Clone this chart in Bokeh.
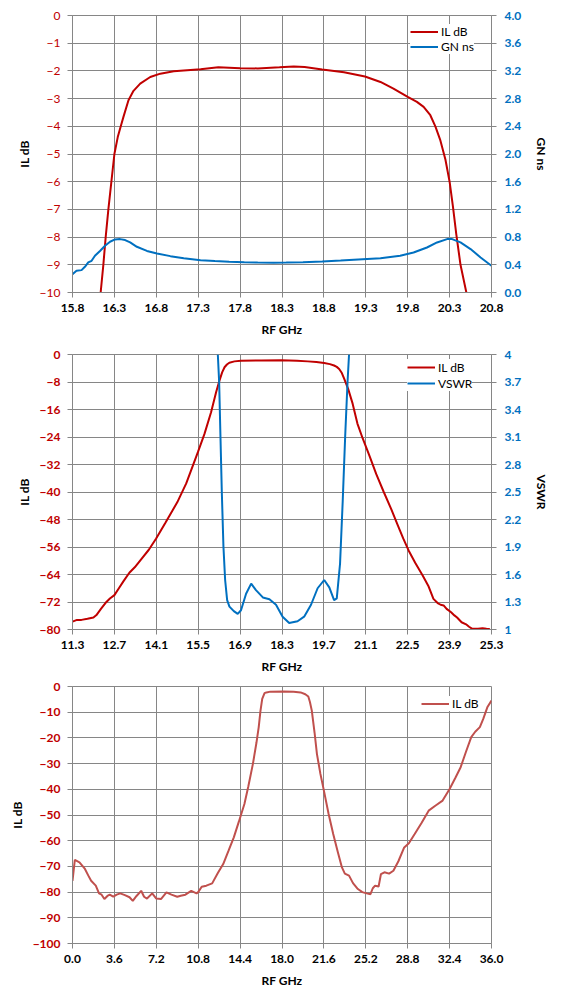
from bokeh.plotting import figure
from bokeh.models import (Range1d, LinearAxis, FixedTicker, PrintfTickFormatter,
                          CustomJSTickFormatter, Legend, LegendItem)
from bokeh.layouts import column
from bokeh.embed import file_html
from bokeh.resources import INLINE

# ---------------- data ----------------
# Chart 1: IL dB and group delay (GN ns) vs RF GHz
c1_il_f = [16.136, 16.168, 16.196, 16.228, 16.264, 16.30, 16.34, 16.376, 16.408, 16.468,
           16.528, 16.608, 16.728, 16.848, 17.008, 17.328, 17.54, 17.80, 18.01, 18.27, 18.44,
           18.57, 18.78, 19.04, 19.29, 19.475, 19.63, 19.80, 19.91, 19.99, 20.07, 20.13,
           20.19, 20.25, 20.30, 20.34, 20.38, 20.43, 20.50]
c1_il_db = [-10.0, -9.0, -8.0, -7.0, -6.0, -5.0, -4.39, -4.0, -3.66, -3.06,
            -2.72, -2.46, -2.22, -2.10, -2.01, -1.94, -1.87, -1.9, -1.91, -1.87, -1.84,
            -1.86, -1.95, -2.05, -2.2, -2.40, -2.64, -2.94, -3.12, -3.30, -3.60, -4.0,
            -4.51, -5.2, -6.0, -6.9, -7.9, -9.0, -10.0]
c1_gn_f = [15.800, 15.848, 15.908, 15.948, 15.988, 16.028, 16.068, 16.128, 16.188, 16.248,
           16.308, 16.368, 16.428, 16.488, 16.568, 16.688, 16.808, 16.968, 17.128, 17.328,
           17.50, 17.67, 17.85, 18.01, 18.20, 18.35, 18.55, 18.78, 19.00, 19.21, 19.475,
           19.71, 19.87, 20.03, 20.15, 20.27, 20.33, 20.43, 20.55, 20.67, 20.80]
c1_gn_ns = [0.265, 0.313, 0.323, 0.371, 0.434, 0.458, 0.530, 0.600, 0.675, 0.733,
            0.766, 0.771, 0.757, 0.723, 0.660, 0.600, 0.564, 0.525, 0.496, 0.467,
            0.455, 0.445, 0.437, 0.432, 0.430, 0.432, 0.437, 0.447, 0.462, 0.478, 0.496,
            0.530, 0.578, 0.650, 0.723, 0.771, 0.771, 0.723, 0.627, 0.506, 0.386]
c1_x_ticks = [15.8, 16.3, 16.8, 17.3, 17.8, 18.3, 18.8, 19.3, 19.8, 20.3, 20.8]
c1_il_ticks = [0, -1, -2, -3, -4, -5, -6, -7, -8, -9, -10]
c1_gn_ticks = [0.0, 0.4, 0.8, 1.2, 1.6, 2.0, 2.4, 2.8, 3.2, 3.6, 4.0]

# Chart 2: IL dB and VSWR vs RF GHz
c2_il_f = [11.3, 11.45, 11.6, 11.8, 12.0, 12.1, 12.25, 12.4, 12.55, 12.7, 12.85, 13.0, 13.2,
           13.38, 13.6, 13.85, 14.09, 14.4, 14.8, 15.1, 15.49, 15.71, 15.93, 16.10, 16.21,
           16.30, 16.38, 16.46, 16.54, 16.71, 16.93, 17.6, 18.27, 18.8, 19.16, 19.45, 19.71,
           19.9, 20.04, 20.13, 20.21, 20.30, 20.38, 20.51, 20.66, 20.82, 21.0, 21.22, 21.45,
           21.7, 21.95, 22.17, 22.35, 22.53, 22.75, 23.0, 23.2, 23.36, 23.5, 23.6, 23.7, 23.8,
           23.95, 24.06, 24.15, 24.3, 24.45, 24.55, 24.66, 24.85, 25.0, 25.13, 25.25]
c2_il_db = [-77.7, -77.2, -77.2, -76.9, -76.5, -75.8, -74.0, -72.3, -71.0, -70.0, -68.0, -66.0,
            -63.5, -61.9, -59.5, -56.8, -53.6, -49.0, -43.0, -37.5, -28.4, -23.1, -16.8, -10.9,
            -7.6, -5.2, -3.7, -2.9, -2.4, -2.0, -1.84, -1.72, -1.65, -1.8, -2.0, -2.2, -2.5,
            -2.8, -3.2, -3.6, -4.2, -5.4, -7.1, -10.0, -14.3, -20.1, -24.5, -29.4, -34.8,
            -40.0, -45.0, -49.7, -53.5, -57.0, -60.6, -64.3, -67.5, -71.1, -72.3, -72.8,
            -73.0, -74.0, -75.0, -75.9, -76.5, -77.9, -78.5, -79.2, -79.8, -79.8, -79.6,
            -79.8, -79.9]
c2_vswr_f = [16.156, 16.20, 16.244, 16.289, 16.344, 16.40, 16.467, 16.544, 16.69, 16.82, 16.93,
             17.10, 17.27, 17.43, 17.66, 17.88, 18.10, 18.32, 18.54, 18.82, 19.04, 19.27,
             19.49, 19.71, 19.88, 20.04, 20.13, 20.24, 20.33, 20.41, 20.49, 20.54]
c2_vswr = [4.0, 3.70, 3.10, 2.50, 1.90, 1.54, 1.32, 1.25, 1.20, 1.17, 1.21,
           1.39, 1.50, 1.43, 1.35, 1.33, 1.27, 1.14, 1.07, 1.09, 1.14, 1.27,
           1.45, 1.54, 1.46, 1.32, 1.34, 1.72, 2.41, 3.10, 3.70, 4.0]
c2_x_ticks = [11.3, 12.7, 14.1, 15.5, 16.9, 18.3, 19.7, 21.1, 22.5, 23.9, 25.3]
c2_il_ticks = [0, -8, -16, -24, -32, -40, -48, -56, -64, -72, -80]
c2_vswr_ticks = [1, 1.3, 1.6, 1.9, 2.2, 2.5, 2.8, 3.1, 3.4, 3.7, 4]

# Chart 3: wideband IL dB vs RF GHz
c3_il_f = [0.0, 0.2, 0.6, 1.07, 1.35, 1.6, 2.0, 2.28, 2.5, 2.74, 3.0, 3.2, 3.5, 3.8, 4.1, 4.5,
           4.9, 5.18, 5.5, 5.9, 6.15, 6.4, 6.85, 7.2, 7.6, 8.07, 8.5, 9.0, 9.3, 9.7, 10.2,
           10.66, 10.8, 11.1, 11.5, 12.0, 12.5, 12.95, 13.4, 13.86, 14.3, 14.77, 15.1, 15.5,
           15.8, 16.0, 16.15, 16.3, 16.5, 16.66, 17.0, 18.12, 19.0, 19.6, 20.0, 20.26, 20.4,
           20.56, 20.8, 21.0, 21.3, 21.6, 22.0, 22.4, 22.8, 23.15, 23.4, 23.76, 24.1, 24.52,
           24.9, 25.28, 25.6, 25.8, 26.0, 26.3, 26.5, 26.8, 27.2, 27.57, 28.0, 28.5, 28.9,
           29.4, 30.0, 30.6, 31.2, 31.8, 32.4, 32.9, 33.35, 33.8, 34.26, 34.6, 35.0, 35.3,
           35.64, 36.0]
c3_il_db = [-75.6, -67.5, -68.4, -71.0, -73.5, -75.6, -77.5, -80.5, -81.0, -82.7, -81.5, -81.0,
            -81.8, -81.0, -80.5, -81.2, -82.0, -83.4, -81.5, -79.5, -81.8, -82.5, -80.5, -82.5,
            -82.7, -80.1, -81.0, -81.8, -81.4, -81.0, -79.5, -80.5, -80.0, -77.9, -77.5,
            -76.6, -72.5, -69.1, -64.0, -58.7, -52.5, -45.7, -39.0, -30.1, -22.0, -15.8,
            -9.5, -4.8, -2.6, -2.3, -2.0, -1.95, -2.05, -2.3, -3.0, -3.9, -6.0, -9.4, -18.0,
            -26.2, -34.0, -40.5, -49.5, -57.4, -64.5, -70.4, -72.8, -73.6, -76.5, -78.8,
            -80.0, -80.5, -80.8, -78.5, -77.5, -77.8, -73.0, -72.3, -72.8, -71.7, -68.0,
            -62.6, -61.0, -57.4, -53.0, -48.3, -46.3, -44.4, -39.9, -35.5, -31.4, -25.5,
            -19.7, -17.6, -15.8, -12.5, -8.1, -5.5]
c3_x_ticks = [0.0, 3.6, 7.2, 10.8, 14.4, 18.0, 21.6, 25.2, 28.8, 32.4, 36.0]
c3_il_ticks = [0, -10, -20, -30, -40, -50, -60, -70, -80, -90, -100]

# ---------------- styling ----------------
FONT = "Lato"
RED = "#C00000"
RED3 = "#C0504D"
BLUE = "#0070C0"
GRID = "#868686"
W = 553


def style_axis(ax, color, bold=True, lab_standoff=7, ax_standoff=6):
    ax.axis_line_color = GRID
    ax.major_tick_line_color = GRID
    ax.major_tick_out = 5
    ax.major_tick_in = 0
    ax.minor_tick_line_color = None
    ax.major_label_text_font = FONT
    ax.major_label_text_font_size = "12px"
    ax.major_label_text_font_style = "bold" if bold else "normal"
    ax.major_label_text_color = color
    ax.major_label_standoff = lab_standoff
    ax.axis_label_text_font = FONT
    ax.axis_label_text_font_size = "12px"
    ax.axis_label_text_font_style = "bold"
    ax.axis_label_text_color = "black"
    ax.axis_label_standoff = ax_standoff


def make_fig(xr, yr, xticks, yticks, height, bt, bb, left_bold):
    p = figure(width=W, height=height, x_range=Range1d(*xr), y_range=Range1d(*yr),
               output_backend="svg", toolbar_location=None,
               min_border_left=72, min_border_right=62,
               min_border_top=bt, min_border_bottom=bb)
    p.xaxis.ticker = FixedTicker(ticks=xticks)
    p.xaxis.formatter = PrintfTickFormatter(format="%.1f")
    p.yaxis.ticker = FixedTicker(ticks=yticks)
    p.xaxis.axis_label = "RF GHz"
    p.yaxis.axis_label = "IL dB"
    style_axis(p.xaxis[0], "black", True, 6, 7)
    style_axis(p.yaxis[0], RED, left_bold, 7, 5)
    p.xgrid.ticker = FixedTicker(ticks=xticks)
    p.ygrid.ticker = FixedTicker(ticks=yticks)
    for g in (p.xgrid[0], p.ygrid[0]):
        g.grid_line_color = GRID
        g.grid_line_width = 1
    p.outline_line_color = GRID
    p.background_fill_color = "white"
    p.border_fill_color = "white"
    return p


def add_legend(p, items, loc, glyph_h):
    leg = Legend(items=items, location=loc, orientation="vertical",
                 background_fill_color="white", background_fill_alpha=1.0,
                 border_line_color=None, padding=4, margin=0, spacing=0,
                 glyph_width=28, glyph_height=glyph_h, label_height=glyph_h,
                 label_standoff=3, label_text_font=FONT, label_text_font_size="12px",
                 label_text_color="black")
    p.add_layout(leg)


# ---- chart 1 ----
p1 = make_fig((15.8, 20.8), (-10, 0), c1_x_ticks, c1_il_ticks, 348, 15, 56, False)
p1.extra_y_ranges = {"gn": Range1d(0, 4)}
ax1 = LinearAxis(y_range_name="gn", axis_label="GN ns", ticker=FixedTicker(ticks=c1_gn_ticks),
                 formatter=PrintfTickFormatter(format="%.1f"))
style_axis(ax1, BLUE, True, 8, 10)
p1.add_layout(ax1, "right")
r1a = p1.line(c1_il_f, c1_il_db, line_color=RED, line_width=2)
r1b = p1.line(c1_gn_f, c1_gn_ns, line_color=BLUE, line_width=2, y_range_name="gn")
add_legend(p1, [LegendItem(label="IL dB", renderers=[r1a]),
                LegendItem(label="GN ns", renderers=[r1b])], (338, 238), 15)

# ---- chart 2 ----
p2 = make_fig((11.3, 25.3), (-80, 0), c2_x_ticks, c2_il_ticks, 332, 6, 51, True)
p2.extra_y_ranges = {"vswr": Range1d(1, 4)}
ax2 = LinearAxis(y_range_name="vswr", axis_label="VSWR", ticker=FixedTicker(ticks=c2_vswr_ticks),
                 formatter=CustomJSTickFormatter(
                     code="return Math.abs(tick - Math.round(tick)) < 1e-9 ? tick.toFixed(0) : tick.toFixed(1);"))
style_axis(ax2, BLUE, True, 8, 10)
p2.add_layout(ax2, "right")
r2a = p2.line(c2_il_f, c2_il_db, line_color=RED, line_width=2)
r2b = p2.line(c2_vswr_f, c2_vswr, line_color=BLUE, line_width=2, y_range_name="vswr")
add_legend(p2, [LegendItem(label="IL dB", renderers=[r2a]),
                LegendItem(label="VSWR", renderers=[r2b])], (335, 238), 16)

# ---- chart 3 ----
p3 = make_fig((0, 36), (-100, 0), c3_x_ticks, c3_il_ticks, 317, 6, 54, True)
r3 = p3.line(c3_il_f, c3_il_db, line_color=RED3, line_width=2)
add_legend(p3, [LegendItem(label="IL dB", renderers=[r3])], (349, 232), 15)

layout = column(p1, p2, p3, spacing=0)
open("out.html", "w").write(file_html(layout, INLINE))
